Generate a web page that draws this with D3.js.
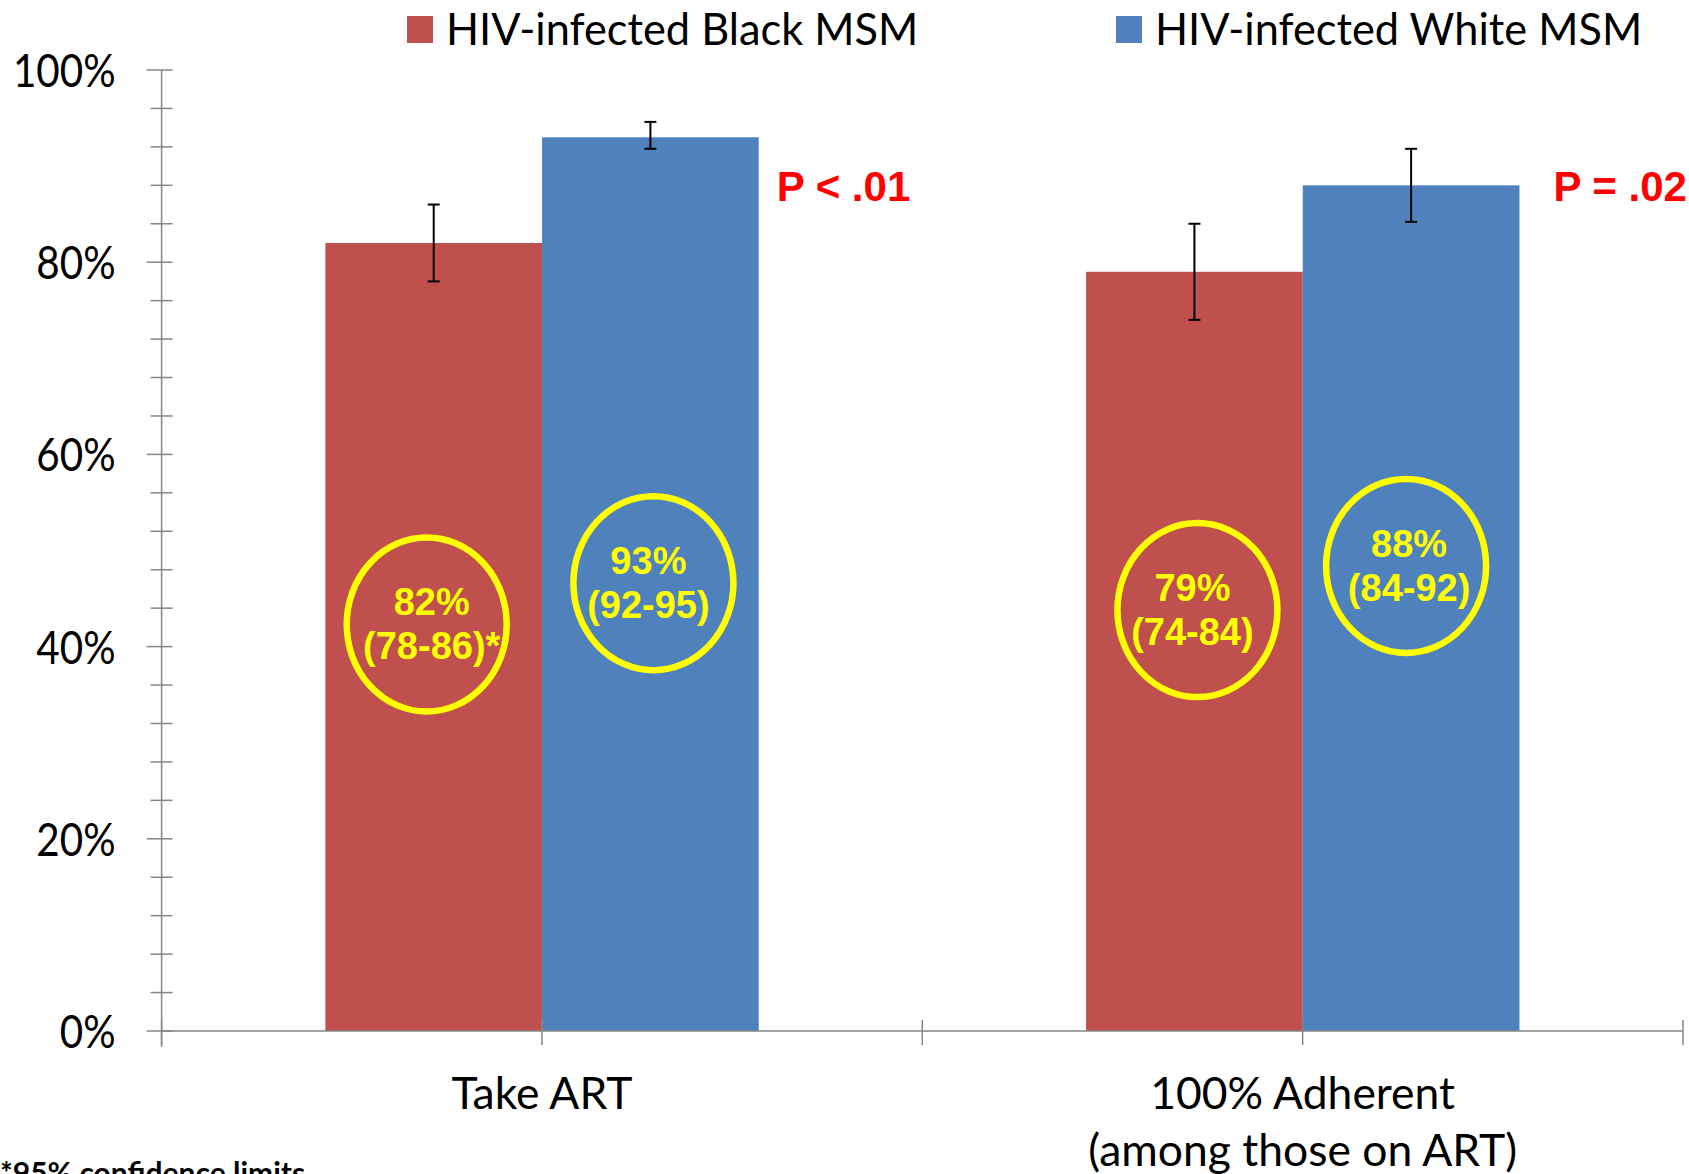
<!DOCTYPE html>
<html>
<head>
<meta charset="utf-8">
<script src="https://cdn.jsdelivr.net/npm/d3@7"></script>
<style>
  body { margin: 0; background: #fff; }
  svg { display: block; }
  .lato { font-family: Lato, "Open Sans", sans-serif; }
  .arial { font-family: "Liberation Sans", Arial, sans-serif; font-weight: bold; }
</style>
</head>
<body>
<div id="chart"></div>
<script>
// chart values
const categories = ['Take ART', '100% Adherent|(among those on ART)'];
const series = ['HIV-infected Black MSM', 'HIV-infected White MSM'];
const blackValues = [82, 79];
const whiteValues = [93, 88];
const blackLow = [78, 74];
const blackHigh = [86, 84];
const whiteLow = [91.8, 84.2];
const whiteHigh = [94.6, 91.8];
const blackLabels = ['82%|(78-86)*', '79%|(74-84)'];
const whiteLabels = ['93%|(92-95)', '88%|(84-92)'];
const pLabels = ['P < .01', 'P = .02'];
const yTicks = [0, 20, 40, 60, 80, 100];
const yMinorTicks = d3.range(0, 101, 4);
const footnote = '*95% confidence limits';

// where the yellow rings sit (value units, and x shift from bar centre)
const ringY = [[42.3, 43.8], [46.6, 48.4]];
const ringDx = [[-7, 3], [3, -5]];
const pY = 86.4;
const pDx = [18, 34];

const colors = ['#C0504D', '#4F81BD'];
const W = 1689, H = 1174;
const margin = { top: 70, right: 6, bottom: 143, left: 161.6 };
const width = W - margin.left - margin.right;
const height = H - margin.top - margin.bottom;

const svg = d3.select('#chart').append('svg')
    .attr('width', W)
    .attr('height', H);

const g = svg.append('g')
    .attr('transform', 'translate(' + margin.left + ',' + margin.top + ')');

const x0 = d3.scaleBand()
    .domain(d3.range(categories.length))
    .range([0, width]);

const bw = x0.bandwidth();
const x1 = d3.scaleBand()
    .domain(d3.range(series.length))
    .range([bw * 0.2153, bw * 0.785]);

const y = d3.scaleLinear()
    .domain([0, 100])
    .range([height, 0]);

const values = [blackValues, whiteValues];
const lows = [blackLow, whiteLow];
const highs = [blackHigh, whiteHigh];
const labels = [blackLabels, whiteLabels];

// helper for text squeezed a bit sideways like the original
function squeezed(parent, x, yy, str, size, cls, fill, anchor, sx) {
    const t = parent.append('g')
        .attr('transform', 'translate(' + x + ',' + yy + ') scale(' + sx + ',1)')
        .append('text')
        .attr('class', cls)
        .attr('font-size', size)
        .attr('fill', fill)
        .attr('text-anchor', anchor)
        .text(str);
    return t;
}

// bars
series.forEach(function (s, si) {
    g.append('g').selectAll('rect')
        .data(values[si])
        .enter().append('rect')
        .attr('x', function (d, i) { return x0(i) + x1(si); })
        .attr('y', function (d) { return y(d); })
        .attr('width', x1.bandwidth())
        .attr('height', function (d) { return height - y(d); })
        .attr('fill', colors[si]);
});

// axes
const axisColor = '#868686';
g.append('line')
    .attr('x1', 0).attr('x2', 0)
    .attr('y1', y(100)).attr('y2', height + 16)
    .attr('stroke', axisColor).attr('stroke-width', 1.5);
g.append('g').selectAll('line')
    .data(yMinorTicks)
    .enter().append('line')
    .attr('x1', function (d) { return d % 20 === 0 ? -15 : -11; })
    .attr('x2', 11)
    .attr('y1', function (d) { return y(d); })
    .attr('y2', function (d) { return y(d); })
    .attr('stroke', axisColor).attr('stroke-width', 1.5);

g.append('line')
    .attr('x1', 0).attr('x2', width)
    .attr('y1', height).attr('y2', height)
    .attr('stroke', axisColor).attr('stroke-width', 1.5);
const xTickPos = d3.range(categories.length * 2 + 1).map(function (k) { return k * bw / 2; });
g.append('g').selectAll('line')
    .data(xTickPos)
    .enter().append('line')
    .attr('x1', function (d) { return d; })
    .attr('x2', function (d) { return d; })
    .attr('y1', height - 11)
    .attr('y2', height + 14)
    .attr('stroke', axisColor).attr('stroke-width', 1.5);

// y tick labels
yTicks.forEach(function (t) {
    squeezed(g, -46, y(t) + 17, t + '%', 47, 'lato', '#000', 'end', 0.86);
});

// category labels
categories.forEach(function (c, i) {
    c.split('|').forEach(function (line, li) {
        squeezed(g, x0(i) + bw / 2, height + 78 + li * 57, line, 44, 'lato', '#000', 'middle', 1.01);
    });
});

// error bars
series.forEach(function (s, si) {
    const eg = g.append('g');
    values[si].forEach(function (v, i) {
        const cx = x0(i) + x1(si) + x1.bandwidth() / 2;
        eg.append('line')
            .attr('x1', cx).attr('x2', cx)
            .attr('y1', y(lows[si][i])).attr('y2', y(highs[si][i]))
            .attr('stroke', '#000').attr('stroke-width', 2);
        [lows[si][i], highs[si][i]].forEach(function (e) {
            eg.append('line')
                .attr('x1', cx - 6).attr('x2', cx + 6)
                .attr('y1', y(e)).attr('y2', y(e))
                .attr('stroke', '#000').attr('stroke-width', 2);
        });
    });
});

// yellow rings with values
series.forEach(function (s, si) {
    values[si].forEach(function (v, i) {
        const bx = x0(i) + x1(si) + x1.bandwidth() / 2;
        const cx = bx + ringDx[si][i];
        const cy = y(ringY[si][i]);
        g.append('ellipse')
            .attr('cx', cx).attr('cy', cy)
            .attr('rx', 80).attr('ry', 87)
            .attr('fill', 'none')
            .attr('stroke', '#FFFF00')
            .attr('stroke-width', 6.5);
        labels[si][i].split('|').forEach(function (line, li) {
            g.append('text')
                .attr('class', 'arial')
                .attr('x', bx - 2)
                .attr('y', cy - 9 + li * 44)
                .attr('font-size', 38)
                .attr('fill', '#FFFF00')
                .attr('text-anchor', 'middle')
                .text(line);
        });
    });
});

// p values
pLabels.forEach(function (p, i) {
    g.append('text')
        .attr('class', 'arial')
        .attr('x', x0(i) + x1(1) + x1.bandwidth() + pDx[i])
        .attr('y', y(pY))
        .attr('font-size', 42)
        .attr('fill', '#FF0000')
        .text(p);
});

// legend
const legend = svg.append('g');
const legendX = [407, 1116];
series.forEach(function (s, si) {
    legend.append('rect')
        .attr('x', legendX[si]).attr('y', 16)
        .attr('width', 26).attr('height', 27)
        .attr('fill', colors[si]);
    squeezed(legend, legendX[si] + 39, 45, s, 44, 'lato', '#000', 'start', 0.985);
});

// footnote
svg.append('text')
    .attr('class', 'lato')
    .attr('x', 0)
    .attr('y', 1184)
    .attr('font-size', 30)
    .attr('font-weight', 'bold')
    .text(footnote);
</script>
</body>
</html>
